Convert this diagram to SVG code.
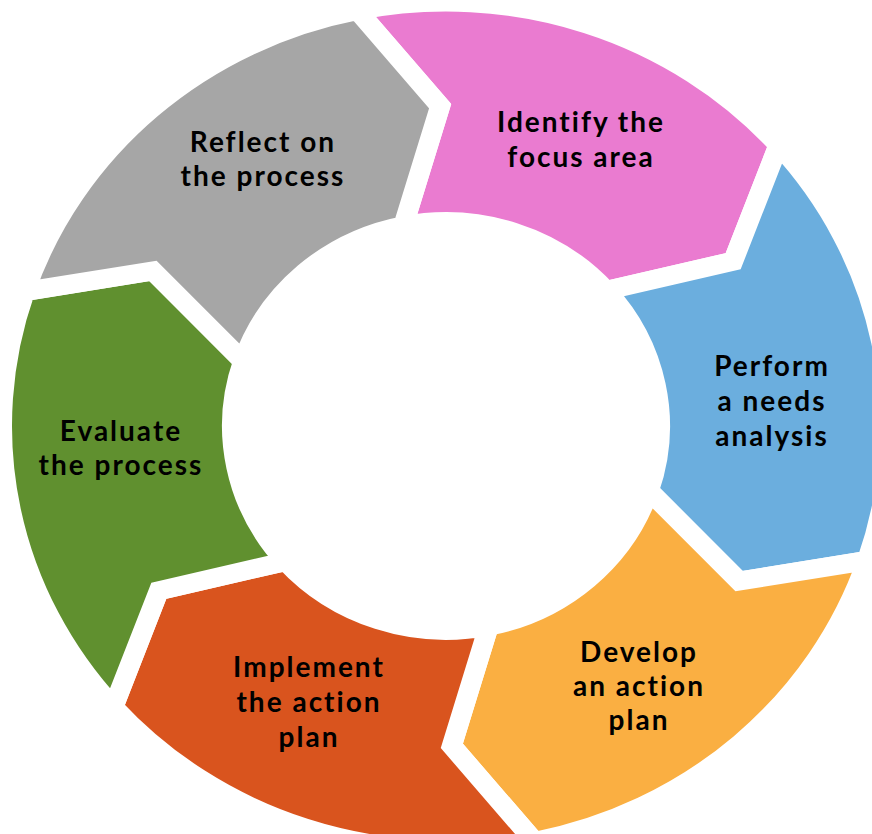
<svg xmlns="http://www.w3.org/2000/svg" width="872" height="834" viewBox="0 0 872 834">
  <style>
    .seg { stroke: #ffffff; stroke-width: 20; stroke-linejoin: miter; stroke-miterlimit: 10; }
    .lbl { font-family: Lato, "Open Sans", "Liberation Sans", sans-serif; font-weight: bold; font-size: 28px; letter-spacing: 2px; fill: #000000; text-anchor: middle; }
  </style>
  <rect width="872" height="834" fill="#ffffff"/>

  <!-- ring of six chevron segments, centred at (446,426), slightly flattened vertically -->
  <g id="ring" transform="translate(446 426) scale(1 0.955)">
    <g id="node-identify">
      <path class="seg" fill="#EA7BD0" d="M -88.52 -435.08 A 444 444 0 0 1 332.54 -294.20 L 287.15 -172.54 L 160.28 -141.80 A 214 214 0 0 0 -42.67 -209.70 L -5.85 -334.95 Z"/>
    </g>
    <g id="node-needs">
      <path class="seg" fill="#6BAEDE" d="M 332.54 -294.20 A 444 444 0 0 1 421.05 140.88 L 293.00 162.41 L 202.94 67.90 A 214 214 0 0 0 160.28 -141.80 L 287.15 -172.54 Z"/>
    </g>
    <g id="node-develop">
      <path class="seg" fill="#FAAF42" d="M 421.05 140.88 A 444 444 0 0 1 88.52 435.08 L 5.85 334.95 L 42.67 209.70 A 214 214 0 0 0 202.94 67.90 L 293.00 162.41 Z"/>
    </g>
    <g id="node-implement">
      <path class="seg" fill="#D9541E" d="M 88.52 435.08 A 444 444 0 0 1 -332.54 294.20 L -287.15 172.54 L -160.28 141.80 A 214 214 0 0 0 42.67 209.70 L 5.85 334.95 Z"/>
    </g>
    <g id="node-evaluate">
      <path class="seg" fill="#60902F" d="M -332.54 294.20 A 444 444 0 0 1 -421.05 -140.88 L -293.00 -162.41 L -202.94 -67.90 A 214 214 0 0 0 -160.28 141.80 L -287.15 172.54 Z"/>
    </g>
    <g id="node-reflect">
      <path class="seg" fill="#A6A6A6" d="M -421.05 -140.88 A 444 444 0 0 1 -88.52 -435.08 L -5.85 -334.95 L -42.67 -209.70 A 214 214 0 0 0 -202.94 -67.90 L -293.00 -162.41 Z"/>
    </g>
  </g>

  <!-- labels (x nudged by half the trailing letter-spacing) -->
  <g id="labels">
    <text class="lbl" x="581" y="132">Identify the</text>
    <text class="lbl" x="581" y="167">focus area</text>

    <text class="lbl" x="772" y="376">Perform</text>
    <text class="lbl" x="772" y="411">a needs</text>
    <text class="lbl" x="772" y="446">analysis</text>

    <text class="lbl" x="639" y="662">Develop</text>
    <text class="lbl" x="639" y="696">an action</text>
    <text class="lbl" x="639" y="730">plan</text>

    <text class="lbl" x="309" y="677">Implement</text>
    <text class="lbl" x="309" y="712">the action</text>
    <text class="lbl" x="309" y="747">plan</text>

    <text class="lbl" x="121" y="441">Evaluate</text>
    <text class="lbl" x="121" y="475">the process</text>

    <text class="lbl" x="263" y="152">Reflect on</text>
    <text class="lbl" x="263" y="186">the process</text>
  </g>
</svg>
